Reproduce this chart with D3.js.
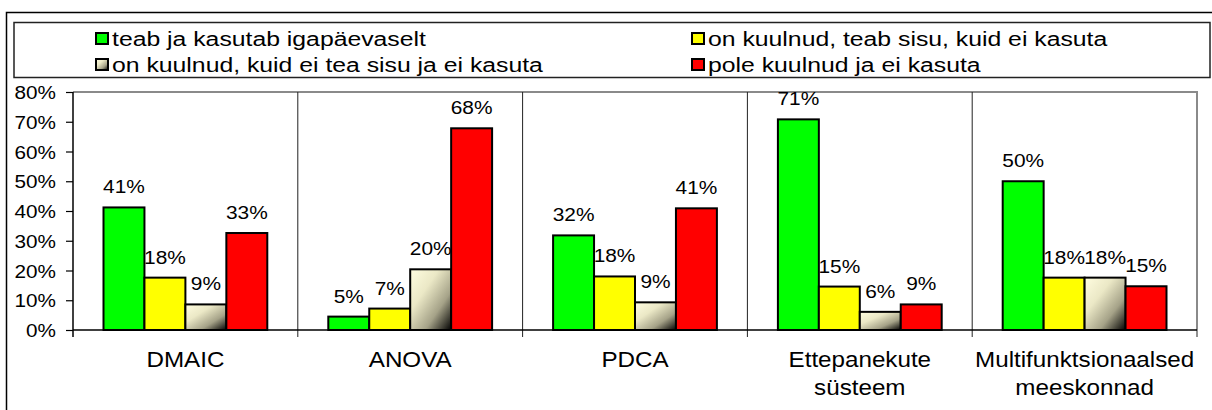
<!DOCTYPE html>
<html lang="et">
<head>
<meta charset="UTF-8">
<title>Meetodite tundmine</title>
<script src="https://cdn.jsdelivr.net/npm/d3@7"></script>
<style>
  body { margin: 0; background: #fff; }
  text { font-family: Arial, "Liberation Sans", sans-serif; fill: #000; }
</style>
</head>
<body>
<svg id="chart" width="1212" height="410"></svg>
<script>
// data
var categories = [["DMAIC"], ["ANOVA"], ["PDCA"], ["Ettepanekute", "süsteem"], ["Multifunktsionaalsed", "meeskonnad"]];
var seriesNames = ["teab ja kasutab igapäevaselt", "on kuulnud, teab sisu, kuid ei kasuta",
                   "on kuulnud, kuid ei tea sisu ja ei kasuta", "pole kuulnud ja ei kasuta"];
var teab     = [41.2, 4.5, 31.8, 70.8, 50.0];
var teabSisu = [17.6, 7.2, 18.0, 14.6, 17.6];
var eiTea    = [8.6, 20.4, 9.3, 6.1, 17.6];
var pole     = [32.6, 67.8, 40.9, 8.6, 14.7];
var yTicks   = [0, 10, 20, 30, 40, 50, 60, 70, 80];

var colors = ["#00ff00", "#ffff00", "url(#cream)", "#ff0000"];
var seriesVals = [teab, teabSisu, eiTea, pole];

var svg = d3.select("#chart");
var plotL = 73, plotR = 1197, plotT = 92, plotB = 330;

// gradient for the beige series
var grad = svg.append("defs").append("linearGradient")
    .attr("id", "cream").attr("x1", 0).attr("y1", 0).attr("x2", 1).attr("y2", 1);
grad.append("stop").attr("offset", 0).attr("stop-color", "#fffde0");
grad.append("stop").attr("offset", 0.35).attr("stop-color", "#ebe8c6");
grad.append("stop").attr("offset", 0.68).attr("stop-color", "#a5a288");
grad.append("stop").attr("offset", 1).attr("stop-color", "#000");

// outer frame + legend box
svg.append("rect").attr("x", 6.5).attr("y", 12.5).attr("width", 1230).attr("height", 430)
    .attr("fill", "none").attr("stroke", "#000").attr("stroke-width", 1.5);
svg.append("rect").attr("x", 14).attr("y", 22.5).attr("width", 1196).attr("height", 55)
    .attr("fill", "none").attr("stroke", "#222").attr("stroke-width", 1.5);

var legX = [96, 692], legY = [46, 72];
var leg = svg.selectAll("g.leg").data(seriesNames).enter().append("g")
    .attr("transform", function(d, i) { return "translate(" + legX[i % 2] + "," + legY[Math.floor(i / 2)] + ")"; });
leg.append("rect").attr("x", 0).attr("y", -13).attr("width", 12).attr("height", 11)
    .attr("fill", function(d, i) { return colors[i]; })
    .attr("stroke", "#000").attr("stroke-width", 2);
leg.append("text").attr("transform", "translate(16,0) scale(1.18,1)")
    .style("font-size", "21px").text(function(d) { return d; });

// scales
var x0 = d3.scaleBand().domain(d3.range(categories.length)).range([plotL, plotR]);
var x1 = d3.scaleBand().domain(d3.range(4)).range([30.5, x0.bandwidth() - 30.5]);
var y = d3.scaleLinear().domain([0, 80]).range([plotB, plotT]);

// plot frame: gray top/right
svg.append("path").attr("d", "M" + plotL + "," + plotT + "H" + plotR + "V" + plotB)
    .attr("fill", "none").attr("stroke", "#8a8a8a").attr("stroke-width", 2);

// category separators incl. ticks below axis
var bounds = x0.domain().map(function(i) { return x0(i); }).concat([plotR]);
svg.selectAll("line.sep").data(bounds.slice(1, -1)).enter().append("line")
    .attr("x1", function(d) { return d; }).attr("x2", function(d) { return d; })
    .attr("y1", plotT).attr("y2", plotB + 7)
    .attr("stroke", "#222").attr("stroke-width", 1);
svg.append("line").attr("x1", plotR).attr("x2", plotR).attr("y1", plotB).attr("y2", plotB + 7)
    .attr("stroke", "#222").attr("stroke-width", 1);

// y axis
var yAxis = svg.append("g").attr("transform", "translate(" + plotL + ",0)")
    .call(d3.axisLeft(y).tickValues(yTicks).tickSize(7).tickPadding(10)
        .tickFormat(function(d) { return d + "%"; }));
yAxis.select(".domain").attr("d", "M0," + plotT + "V" + (plotB + 7)).attr("stroke", "#000").attr("stroke-width", 1.5);
yAxis.selectAll(".tick line").attr("stroke", "#000").attr("stroke-width", 1.2);
yAxis.selectAll(".tick text").attr("x", null).attr("dy", "0.36em")
    .attr("transform", "translate(-17,0) scale(1.12,1)")
    .style("font-size", "18.5px").style("font-family", "Arial, 'Liberation Sans', sans-serif");

// x axis line
svg.append("line").attr("x1", plotL).attr("x2", plotR).attr("y1", plotB).attr("y2", plotB)
    .attr("stroke", "#000").attr("stroke-width", 1.5);

// bars
var groups = svg.selectAll("g.cat").data(categories).enter().append("g")
    .attr("transform", function(d, i) { return "translate(" + x0(i) + ",0)"; });

groups.each(function(c, ci) {
    var g = d3.select(this);
    var vals = seriesVals.map(function(s) { return s[ci]; });
    g.selectAll("rect").data(vals).enter().append("rect")
        .attr("x", function(d, si) { return x1(si); })
        .attr("y", function(d) { return y(d); })
        .attr("width", x1.bandwidth())
        .attr("height", function(d) { return y(0) - y(d); })
        .attr("fill", function(d, si) { return colors[si]; })
        .attr("stroke", "#000").attr("stroke-width", 2);
    g.selectAll("text.val").data(vals).enter().append("text")
        .attr("transform", function(d, si) {
            return "translate(" + (x1(si) + x1.bandwidth() / 2) + "," + (y(d) - 14) + ") scale(1.13,1)";
        })
        .attr("text-anchor", "middle").style("font-size", "18.5px")
        .text(function(d) { return Math.round(d) + "%"; });
    g.selectAll("text.cat").data(c).enter().append("text")
        .attr("transform", function(d, li) {
            return "translate(" + (x0.bandwidth() / 2) + "," + (367 + li * 28) + ") scale(1.1,1)";
        })
        .attr("text-anchor", "middle").style("font-size", "22px")
        .text(function(d) { return d; });
});
</script>
</body>
</html>
